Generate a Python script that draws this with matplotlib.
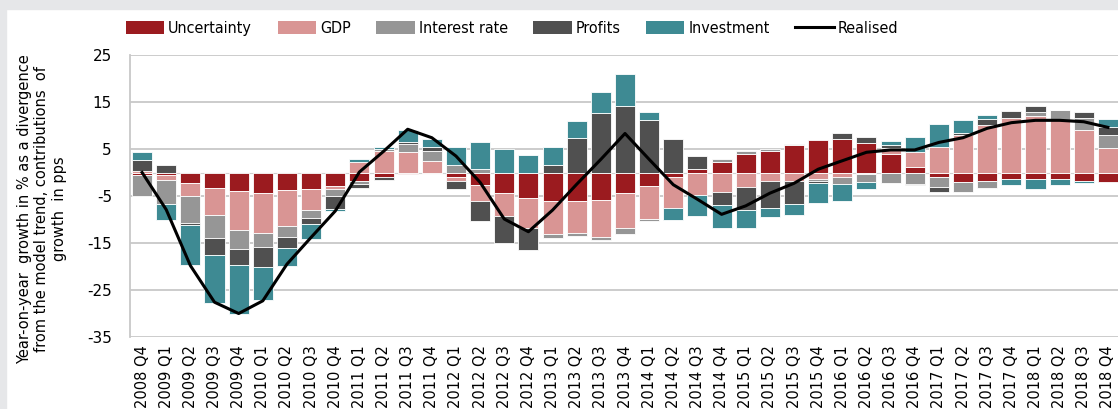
import numpy as np
import matplotlib.pyplot as plt
from matplotlib.patches import Patch, Rectangle
from matplotlib.lines import Line2D

plt.rcParams['font.family'] = ['DejaVu Sans']
plt.rcParams['axes.unicode_minus'] = False

# quarters 2008 Q4 .. 2018 Q4
quarters = ['2008 Q4'] + [f'{y} Q{q}' for y in range(2009, 2019) for q in range(1, 5)]

uncertainty = [-0.5, -0.5, -2.3, -3.2, -4.0, -4.4, -3.8, -3.5, -2.9, -1.8,
               -1.0, -0.35, 0.0, -1.0, -2.6, -4.4, -5.5, -6.1, -6.1, -5.8,
               -4.4, -2.8, -0.9, 0.85, 2.3, 3.9, 4.5, 5.8, 6.9, 7.1,
               6.3, 4.0, 1.1, -0.9, -2.0, -1.8, -1.4, -1.3, -1.3, -1.8, -2.1]
gdp = [0.4, -1.0, -2.7, -5.8, -8.2, -8.4, -7.6, -4.4, -0.6, 2.3,
       4.5, 4.3, 2.4, -0.8, -3.5, -4.8, -6.4, -6.9, -6.7, -7.9,
       -7.5, -7.1, -6.7, -4.7, -4.1, -3.0, -1.8, -1.9, -1.3, -1.0,
       -0.4, 1.2, 3.3, 5.4, 7.9, 10.1, 11.7, 12.0, 11.1, 9.1, 5.3]
interest = [-4.4, -5.2, -5.7, -5.0, -4.0, -3.0, -2.3, -1.7, -1.5, -0.6,
            0.6, 1.7, 2.1, 1.5, 0.8, 0.0, 0.0, -0.85, -0.7, -0.7,
            -1.1, -0.5, 0.0, 0.0, 0.6, 0.6, 0.6, 0.35, -0.5, -1.4,
            -1.7, -2.3, -2.4, -2.1, -2.1, -1.5, 0.0, 0.85, 2.3, 2.6, 2.6]
profits = [2.3, 1.7, -0.5, -3.6, -3.4, -4.3, -2.3, -1.4, -2.8, -0.8,
           -0.5, 0.4, 0.9, -1.8, -4.3, -5.8, -4.6, 1.6, 7.4, 12.6,
           14.2, 11.1, 7.1, 2.6, -2.8, -5.0, -5.7, -4.8, -0.5, 1.4,
           1.3, 0.7, -0.3, -1.1, 0.6, 1.3, 1.4, 1.4, 0.0, 1.1, 1.8]
investment = [1.7, -3.4, -8.5, -10.1, -10.6, -7.1, -3.8, -3.1, -0.4, 0.6,
              0.4, 2.7, 1.8, 4.0, 5.7, 5.1, 3.7, 3.8, 3.5, 4.6,
              6.7, 1.8, -2.5, -4.5, -4.9, -3.8, -2.0, -2.3, -4.1, -3.7,
              -1.4, 0.9, 3.1, 4.9, 2.6, 0.85, -1.2, -2.3, -1.3, -0.35, 1.7]
realised = [0.0, -7.9, -19.8, -27.6, -30.0, -27.3, -19.5, -13.8, -8.2, 0.1,
            4.5, 9.2, 7.4, 3.5, -2.1, -9.9, -12.6, -8.0, -2.5, 2.8,
            8.3, 2.8, -2.6, -5.7, -8.9, -7.1, -4.4, -2.3, 0.7, 2.5,
            4.3, 4.8, 4.8, 6.4, 7.4, 9.4, 10.6, 11.1, 11.1, 10.8, 9.6]

series = [('Uncertainty', uncertainty, '#9B1B1F'),
          ('GDP', gdp, '#D99594'),
          ('Interest rate', interest, '#969696'),
          ('Profits', profits, '#505050'),
          ('Investment', investment, '#3E8A93')]

fig = plt.figure(figsize=(11.18, 4.09), dpi=100)
# grey page frame (top band and left strip)
fig.patches.append(Rectangle((0, 1 - 9 / 409), 1, 9 / 409, transform=fig.transFigure,
                             color='#E6E7E9', zorder=0))
fig.patches.append(Rectangle((0, 0), 6 / 1118, 1, transform=fig.transFigure,
                             color='#E6E7E9', zorder=0))
ax = fig.add_axes([130 / 1118, 1 - 337 / 409, 990 / 1118, 282 / 409])

x = np.arange(len(quarters))
pos = np.zeros(len(x))
neg = np.zeros(len(x))
for name, vals, col in series:
    v = np.array(vals)
    bottom = np.where(v >= 0, pos, neg)
    ax.bar(x, v, 0.83, bottom=bottom, color=col, edgecolor='white', linewidth=0.6,
           zorder=2)
    pos += np.where(v >= 0, v, 0)
    neg += np.where(v < 0, v, 0)

ax.plot(x, realised, color='black', lw=2.2, zorder=3)

ax.set_xlim(-0.5, len(x) - 0.5)
ax.set_ylim(-35, 25)
ax.set_yticks(range(-35, 26, 10))
ax.grid(axis='y', color='#C8C8C8', lw=1.3, zorder=0)
ax.axhline(0, color='#D0D0D0', lw=0.8, zorder=1)
for s in ['top', 'right', 'bottom']:
    ax.spines[s].set_visible(False)
ax.spines['left'].set_color('#C8C8C8')
ax.spines['left'].set_linewidth(1.3)
ax.tick_params(axis='y', length=0, labelsize=11, pad=13)
ax.tick_params(axis='x', length=0, labelsize=10.5, pad=6)
ax.set_xticks(x)
ax.set_xticklabels(quarters, rotation=90)
ax.set_ylabel('Year-on-year  growth in % as a divergence\nfrom the model trend, contributions  of\ngrowth  in pps',
              fontsize=10.5, linespacing=1.2)
ax.yaxis.set_label_coords(-0.064, 0.455)

handles = [Patch(facecolor=c, label=n) for n, _, c in series]
handles.append(Line2D([0], [0], color='black', lw=2.2, label='Realised'))
fig.legend(handles=handles, loc='center', bbox_to_anchor=(0.458, 0.93), ncol=6,
           frameon=False, handlelength=2.4, handleheight=0.9,
           handletextpad=0.25, columnspacing=1.6,
           prop={'family': 'DejaVu Sans', 'stretch': 'condensed', 'size': 11.5})

fig.savefig('out.png', dpi=100)
